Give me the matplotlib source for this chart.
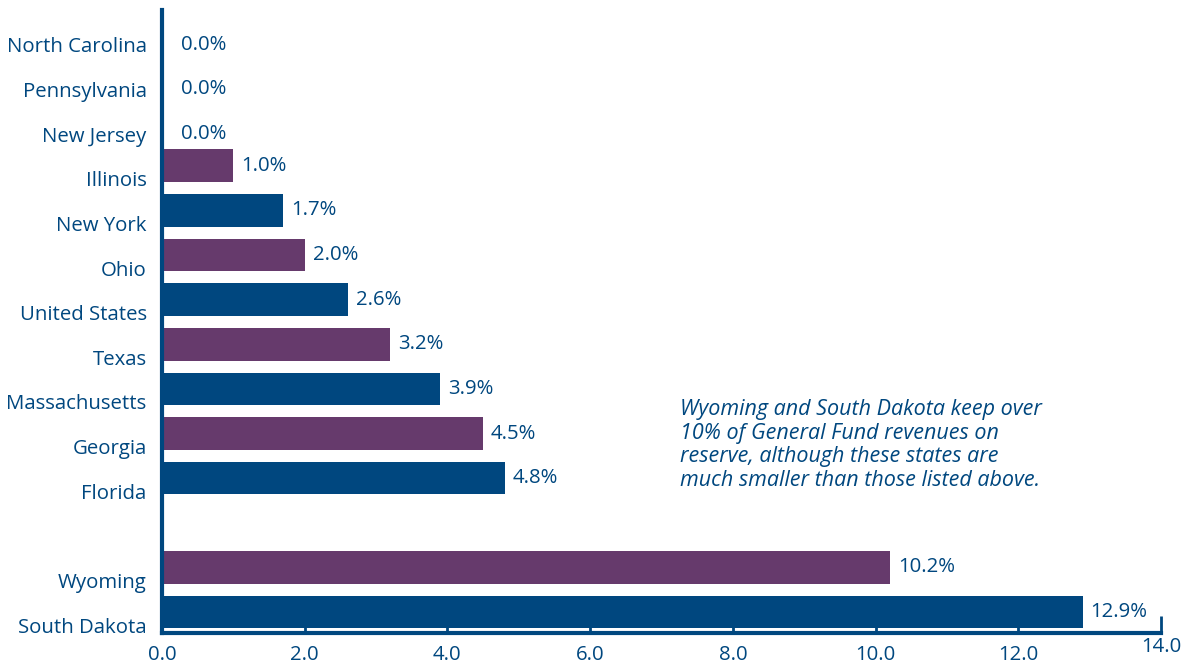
import matplotlib.pyplot as plt
from matplotlib.transforms import ScaledTranslation

plt.rcParams['font.family'] = ['Open Sans', 'DejaVu Sans']

states = ['North Carolina', 'Pennsylvania', 'New Jersey', 'Illinois', 'New York', 'Ohio',
          'United States', 'Texas', 'Massachusetts', 'Georgia', 'Florida', '',
          'Wyoming', 'South Dakota']
reserves = [0.0, 0.0, 0.0, 1.0, 1.7, 2.0, 2.6, 3.2, 3.9, 4.5, 4.8, None, 10.2, 12.9]
xticks = [0, 2, 4, 6, 8, 10, 12, 14]

navy = '#00477f'
purple = '#663a6c'

fig = plt.figure(figsize=(11.83, 6.65), dpi=100)
ax = fig.add_axes([162 / 1183, 32 / 665, 999 / 1183, 623 / 665])

n = len(states)
ypos = [n - 1 - i for i in range(n)]

# alternate colours over the real bars only (the blank row is skipped)
k = 0
for y, v in zip(ypos, reserves):
    if v is None:
        continue
    c = navy if k % 2 == 0 else purple
    k += 1
    ax.barh(y, v, height=0.73, color=c)
    pad = 19 if v == 0 else 8
    dy = -13 if v == 0 else 0
    ax.annotate(f'{v:.1f}%', (v, y), xytext=(pad * 0.72, dy * 0.72),
                textcoords='offset points', va='center', ha='left',
                fontsize=14.7, color=navy)

ax.set_xlim(0, 14)
ax.set_ylim(-0.47, 13.49)

ax.set_yticks([y for y, s in zip(ypos, states) if s])
ax.set_yticklabels([s for s in states if s], fontsize=14.7, color=navy)
ax.tick_params(axis='y', length=0, pad=11)
shift = ScaledTranslation(0, -13 / 100, fig.dpi_scale_trans)
for lab in ax.get_yticklabels():
    lab.set_transform(lab.get_transform() + shift)

ax.set_xticks(xticks)
ax.set_xticklabels([f'{t:.1f}' for t in xticks], fontsize=14.7, color=navy)
ax.tick_params(axis='x', direction='in', length=6, width=2, color=navy, pad=9)
ax.get_xticklabels()[-1].set_transform(
    ax.get_xticklabels()[-1].get_transform() + ScaledTranslation(0, 8 / 100, fig.dpi_scale_trans))
ax.get_xticklines()[-2].set_markersize(12)

for side in ['top', 'right']:
    ax.spines[side].set_visible(False)
for side in ['left', 'bottom']:
    ax.spines[side].set_color(navy)
    ax.spines[side].set_linewidth(3)

note = ('Wyoming and South Dakota keep over\n'
        '10% of General Fund revenues on\n'
        'reserve, although these states are\n'
        'much smaller than those listed above.')
ax.text(680 / 1183, 1 - 399 / 665, note, transform=fig.transFigure, fontsize=15.5,
        style='italic', color=navy, va='top', ha='left', linespacing=1.17)

fig.savefig('out.png', dpi=100)
